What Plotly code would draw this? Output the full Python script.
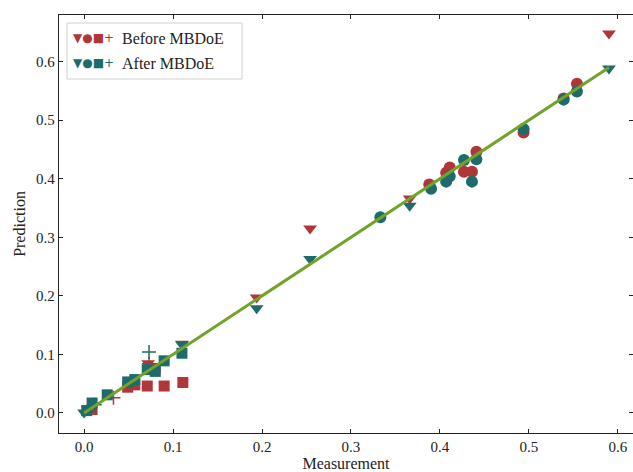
import plotly.graph_objects as go

RED = "#b0363a"
TEAL = "#1e6b6b"
GREEN = "#72a22a"

# Before MBDoE (red)
before_tri_x = [0.590, 0.254, 0.194, 0.366, 0.110, 0.072]
before_tri_y = [0.648, 0.315, 0.197, 0.366, 0.118, 0.085]
before_circ_x = [0.388, 0.407, 0.411, 0.427, 0.436, 0.441, 0.494, 0.539, 0.554]
before_circ_y = [0.390, 0.410, 0.419, 0.412, 0.412, 0.446, 0.479, 0.537, 0.562]
before_sq_x = [0.111, 0.090, 0.071, 0.049, 0.057, 0.009, 0.080]
before_sq_y = [0.052, 0.046, 0.046, 0.044, 0.048, 0.006, 0.076]
before_plus_x = [0.033, 0.073, 0.005]
before_plus_y = [0.026, 0.084, 0.012]

# After MBDoE (teal)
after_tri_x = [0.590, 0.254, 0.194, 0.366, 0.110, 0.000]
after_tri_y = [0.588, 0.263, 0.179, 0.354, 0.117, 0.001]
after_circ_x = [0.333, 0.390, 0.407, 0.411, 0.427, 0.436, 0.441, 0.494, 0.539, 0.554]
after_circ_y = [0.334, 0.383, 0.395, 0.404, 0.432, 0.395, 0.433, 0.485, 0.535, 0.549]
after_sq_x = [0.110, 0.090, 0.071, 0.080, 0.049, 0.057, 0.026, 0.009, 0.003]
after_sq_y = [0.102, 0.089, 0.074, 0.071, 0.053, 0.057, 0.031, 0.017, 0.004]
after_plus_x = [0.073, 0.012]
after_plus_y = [0.104, 0.014]

line_x = [0.0, 0.59]
line_y = [0.0, 0.59]

x_ticks = [0.0, 0.1, 0.2, 0.3, 0.4, 0.5, 0.6]
y_ticks = [0.0, 0.1, 0.2, 0.3, 0.4, 0.5, 0.6]

fig = go.Figure()

def add(x, y, sym, color, size):
    fig.add_trace(go.Scatter(x=x, y=y, mode="markers", showlegend=False,
                             marker=dict(symbol=sym, color=color, size=size,
                                         line=dict(width=0, color=color))))

# before
add(before_tri_x, before_tri_y, "triangle-down", RED, 12)
add(before_circ_x, before_circ_y, "circle", RED, 12)
add(before_sq_x, before_sq_y, "square", RED, 11)
fig.add_trace(go.Scatter(x=before_plus_x, y=before_plus_y, mode="markers", showlegend=False,
                         marker=dict(symbol="cross-thin", size=10, line=dict(width=1.5, color=RED))))
# after
add(after_tri_x, after_tri_y, "triangle-down", TEAL, 12)
add(after_circ_x, after_circ_y, "circle", TEAL, 12)
add(after_sq_x, after_sq_y, "square", TEAL, 11)
fig.add_trace(go.Scatter(x=after_plus_x, y=after_plus_y, mode="markers", showlegend=False,
                         marker=dict(symbol="cross-thin", size=10, line=dict(width=1.5, color=TEAL))))

fig.add_trace(go.Scatter(x=line_x, y=line_y, mode="lines", showlegend=False,
                         line=dict(color=GREEN, width=3)))

font = "Liberation Serif"
axis_common = dict(showgrid=False, zeroline=False, showline=True, linecolor="#222",
                   linewidth=1.3, mirror="ticks", ticks="inside", ticklen=4,
                   tickwidth=1, tickcolor="#222", automargin=False,
                   ticklabeloverflow="allow",
                   tickfont=dict(family=font, size=15, color="#222"))

fig.update_xaxes(range=[-0.0282, 0.617], tickvals=x_ticks,
                 ticktext=[f"{v:.1f}" for v in x_ticks],
                 title=dict(text="Measurement", font=dict(family=font, size=16, color="#222"), standoff=2),
                 **axis_common)
fig.update_yaxes(range=[-0.0342, 0.6795], tickvals=y_ticks,
                 ticktext=[f"{v:.1f}" for v in y_ticks],
                 title=dict(text="Prediction", font=dict(family=font, size=16, color="#222"), standoff=6),
                 **axis_common)

W, H = 633, 472
L, T, B = 59, 15, 39
PW, PH = W - L, H - T - B

def px(xp):
    return (xp - L) / PW

def py(yp):
    return (T + PH - yp) / PH

# manual legend
fig.add_shape(type="rect", xref="paper", yref="paper",
              x0=px(67), x1=px(242), y0=py(79), y1=py(23),
              line=dict(color="#d0d0d0", width=1), fillcolor="rgba(255,255,255,0.85)")
for txt, color, ypx in [("Before MBDoE", RED, 38), ("After MBDoE", TEAL, 63)]:
    fig.add_annotation(xref="paper", yref="paper", x=px(71), y=py(ypx), xanchor="left",
                       yanchor="middle", showarrow=False,
                       text="▼●■+",
                       font=dict(family="DejaVu Sans", size=12, color=color))
    fig.add_annotation(xref="paper", yref="paper", x=px(120), y=py(ypx), xanchor="left",
                       yanchor="middle", showarrow=False, text=txt,
                       font=dict(family=font, size=16, color="#222"))

fig.update_layout(width=W, height=H, margin=dict(l=L, r=0, t=T, b=B),
                  plot_bgcolor="white", paper_bgcolor="white")

fig.write_html("out.html", config={"displayModeBar": False},
               post_script="document.body.style.margin='0';document.body.style.overflow='hidden';")
